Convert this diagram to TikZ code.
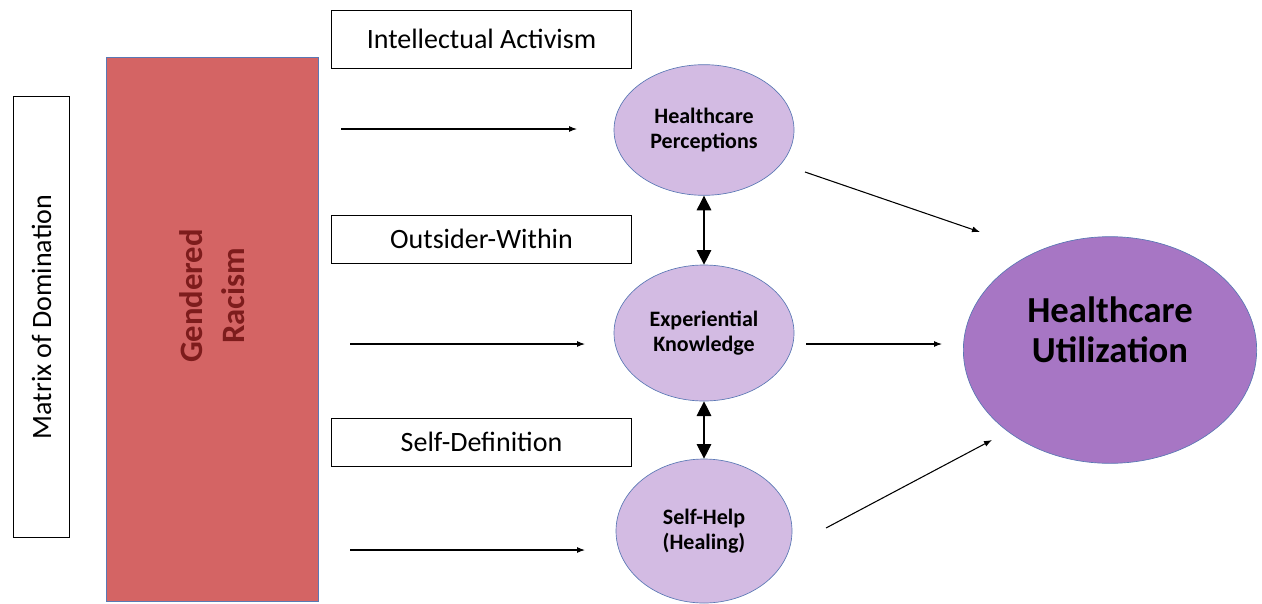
\documentclass[tikz,border=0pt]{standalone}
\usepackage{fontspec}
\setmainfont{Carlito}
\usetikzlibrary{arrows.meta,shapes.geometric}
\definecolor{racered}{RGB}{212,100,100}
\definecolor{racetext}{RGB}{125,28,28}
\definecolor{lightlav}{RGB}{211,187,227}
\definecolor{darklav}{RGB}{167,118,196}
\definecolor{rim}{RGB}{90,120,180}
\begin{document}
\begin{tikzpicture}[x=0.75pt,y=-0.75pt,
    labelbox/.style={draw, line width=0.6pt, minimum width=225pt, minimum height=36pt, font=\fontsize{21}{24}\selectfont},
    concept/.style={ellipse, draw=rim, fill=lightlav, line width=0.5pt, align=center, font=\bfseries\fontsize{16.5}{19}\selectfont, inner sep=0pt},
    flow/.style={-{Latex[length=6pt,width=4.5pt]}, line width=0.8pt},
    link/.style={{Triangle[length=11pt,width=11pt]}-{Triangle[length=11pt,width=11pt]}, line width=0.8pt}]
            \useasboundingbox (0,0) rectangle (1262,603);
            \node[draw, line width=0.6pt, minimum width=331pt, minimum height=42pt, rotate=90, font=\fontsize{21}{24}\selectfont] (matrix) at (41.5,317) {Matrix of Domination};
            \node[draw=rim, fill=racered, line width=0.6pt, minimum width=159pt, minimum height=408pt] (racism) at (212,329) {};
            \node[rotate=90, align=center, text=racetext, font=\bfseries\fontsize{24.5}{32}\selectfont] (racismtext) at (212,296) {Gendered\\Racism};

            \node[labelbox, minimum height=43.5pt] (activism) at (481.5,39) {Intellectual Activism};
            \node[labelbox] (outsider) at (481.5,239) {Outsider-Within};
            \node[labelbox] (selfdef) at (481.5,442) {Self-Definition};

            \node[concept, minimum width=135pt, minimum height=98pt] (percep) at (704,130) {Healthcare\\Perceptions};
            \node[concept, minimum width=135pt, minimum height=102pt] (knowl) at (704,333) {Experiential\\Knowledge};
            \node[concept, minimum width=132pt, minimum height=108pt] (selfhelp) at (704,531) {Self-Help\\(Healing)};
            \node[concept, fill=darklav, minimum width=220pt, minimum height=170pt] (util) at (1110,350) {};
            \node[align=center, font=\bfseries\fontsize{27.5}{30}\selectfont] (utiltext) at (1110,330) {Healthcare\\Utilization};

            \coordinate (a1) at (341,129);
            \coordinate (b1) at (577,129);
            \coordinate (a2) at (350,344);
            \coordinate (b2) at (585,344);
            \coordinate (a3) at (350,550);
            \coordinate (b3) at (585,550);
            \draw[flow] (a1) -- (b1);
            \draw[flow] (a2) -- (b2);
            \draw[flow] (a3) -- (b3);

            \draw[link] (percep.south) -- (knowl.north);
            \draw[link] (knowl.south) -- (selfhelp.north);

            \coordinate (c1) at (805,172);
            \coordinate (d1) at (980,232);
            \coordinate (c2) at (806,344);
            \coordinate (d2) at (942,344);
            \coordinate (c3) at (826,528);
            \coordinate (d3) at (992,440);
            \draw[flow] (c1) -- (d1);
            \draw[flow] (c2) -- (d2);
            \draw[flow] (c3) -- (d3);
        \end{tikzpicture}
\end{document}
